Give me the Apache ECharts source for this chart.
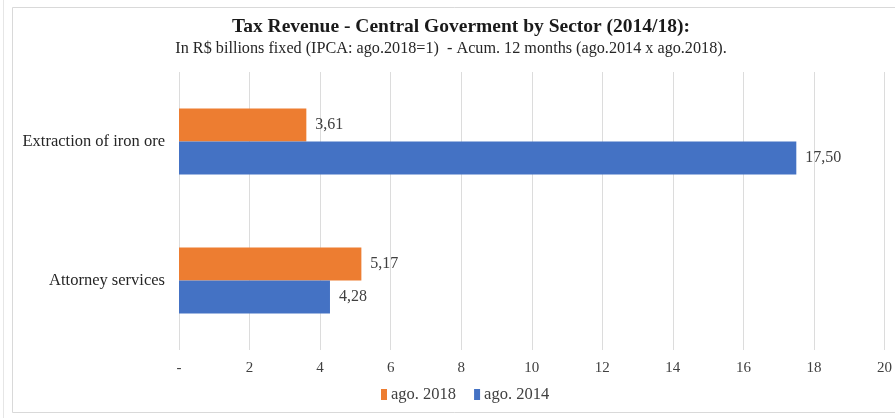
<!DOCTYPE html>
<html>
<head>
<meta charset="utf-8">
<script src="https://cdn.jsdelivr.net/npm/echarts@6/dist/echarts.min.js"></script>
<style>
  html, body { margin: 0; padding: 0; background: #ffffff; }
  #chart { width: 895px; height: 418px; }
</style>
</head>
<body>
<div id="chart"></div>
<script>
// Sectors (top to bottom)
const categories = ['Extraction of iron ore', 'Attorney services'];
// Revenue in R$ billions, accumulated 12 months
const seriesNames = ['ago. 2018', 'ago. 2014'];
const values2018 = [3.61, 5.17];
const values2014 = [17.50, 4.28];
const seriesColors = ['#ED7D31', '#4472C4'];

const FONT = '"Liberation Serif", "DejaVu Serif", serif';
const fmt = v => v.toFixed(2).replace('.', ',');

const chart = echarts.init(document.getElementById('chart'), null, { renderer: 'canvas' });

const valueLabel = {
  show: true, position: 'right', distance: 9, formatter: p => fmt(p.value),
  fontFamily: FONT, fontSize: 16, color: '#404040'
};

chart.setOption({
  animation: false,
  backgroundColor: '#ffffff',
  graphic: [
    { type: 'rect', shape: { x: 12.5, y: 7.5, width: 900, height: 405 },
      style: { fill: 'none', stroke: '#d9d9d9', lineWidth: 1 }, z: -1 },
    { type: 'line', shape: { x1: 3.5, y1: 0, x2: 3.5, y2: 418 },
      style: { stroke: '#e6e6e6', lineWidth: 1 }, z: -1 }
  ],
  title: [
    {
      text: 'Tax Revenue - Central Goverment by Sector (2014/18):',
      left: 456, top: 12, textAlign: 'center',
      textStyle: { fontFamily: FONT, fontWeight: 'bold', fontSize: 19.5, color: '#1a1a1a' }
    },
    {
      text: 'In R$ billions fixed (IPCA: ago.2018=1)  - Acum. 12 months (ago.2014 x ago.2018).',
      left: 446, top: 36, textAlign: 'center',
      textStyle: { fontFamily: FONT, fontWeight: 'normal', fontSize: 16.2, color: '#262626' }
    }
  ],
  legend: {
    data: seriesNames,
    bottom: 10, left: 376,
    itemWidth: 6, itemHeight: 11, itemGap: 18,
    icon: 'rect',
    textStyle: { fontFamily: FONT, fontSize: 16.5, color: '#404040', padding: [0, 0, 0, -1] }
  },
  grid: { left: 179, right: 7, top: 72, bottom: 68 },
  xAxis: {
    type: 'value', min: 0, max: 20, interval: 2,
    axisLine: { show: false }, axisTick: { show: false },
    splitLine: { lineStyle: { color: '#dcdcdc', width: 1 } },
    axisLabel: {
      fontFamily: FONT, fontSize: 15, color: '#404040', margin: 11,
      formatter: v => v === 0 ? '-' : String(v)
    }
  },
  yAxis: {
    type: 'category', data: categories, inverse: true,
    axisLine: { show: false }, axisTick: { show: false },
    axisLabel: { fontFamily: FONT, fontSize: 16.5, color: '#262626', margin: 14 }
  },
  series: [
    {
      name: seriesNames[0], type: 'bar', data: values2018,
      barWidth: 33, barGap: '0%',
      itemStyle: { color: seriesColors[0] },
      label: valueLabel
    },
    {
      name: seriesNames[1], type: 'bar', data: values2014,
      barWidth: 33, barGap: '0%',
      itemStyle: { color: seriesColors[1] },
      label: valueLabel
    }
  ]
});
</script>
</body>
</html>
